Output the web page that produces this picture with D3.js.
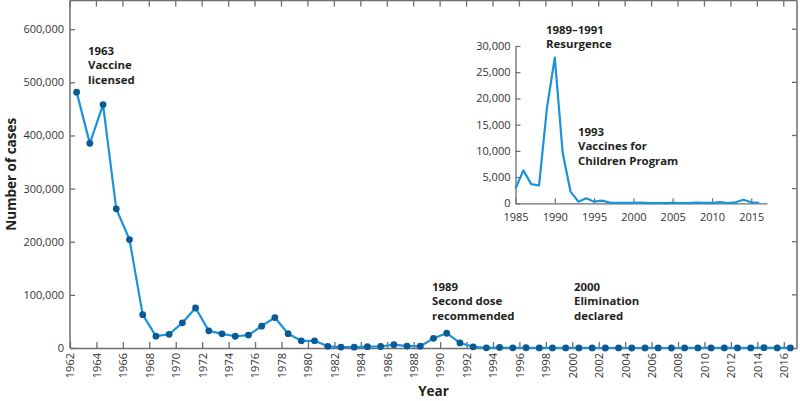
<!DOCTYPE html>
<html><head><meta charset="utf-8">
<script src="https://cdn.jsdelivr.net/npm/d3@7/dist/d3.min.js"></script>
<style>
body{margin:0;background:#fff;}
svg{display:block;}
text{font-family:"Open Sans",sans-serif;}
</style></head>
<body><svg id="chart" width="800" height="401"></svg>
<script>
const years = d3.range(1962, 2017);
const cases = [481530,385156,458083,261904,204136,62705,22231,25826,47351,75290,
32275,26690,22094,24374,41126,57345,26871,13597,13506,3124,
1714,1497,2587,2822,6282,3655,3396,18193,27786,9643,
2237,312,963,309,508,138,100,100,86,116,
44,56,37,66,55,43,140,71,63,220,
55,187,667,188,86];
const yTicks = [0,100000,200000,300000,400000,500000,600000];
const xTicks = d3.range(1962, 2017, 2);
const insetYTicks = [0,5000,10000,15000,20000,25000,30000];
const insetXTicks = [1985,1990,1995,2000,2005,2010,2015];
const annotations = [
  {lines:["1963","Vaccine","licensed"], x:88, y:55},
  {lines:["1989","Second dose","recommended"], x:432, y:291},
  {lines:["2000","Elimination","declared"], x:574, y:291},
  {lines:["1989–1991","Resurgence"], x:546, y:34},
  {lines:["1993","Vaccines for","Children Program"], x:578, y:136}
];

const svg = d3.select("#chart");
const axisColor = "#6d6e71";
const lineColor = "#1a93da";
const dotColor = "#0b5a94";
const fmt = d3.format(",");

// Main scales
const x = d3.scaleLinear().domain([1962, 2017]).range([70, 797]);
const y = d3.scaleLinear().domain([0, 600000]).range([348, 29.2]);
const frameTop = 0.5;

// frame
svg.append("line").attr("x1",x(1962)).attr("x2",x(2017)).attr("y1",frameTop).attr("y2",frameTop).attr("stroke",axisColor).attr("stroke-width",1.5);
svg.append("line").attr("x1",x(2017)).attr("x2",x(2017)).attr("y1",frameTop).attr("y2",y(0)).attr("stroke",axisColor).attr("stroke-width",1.5);
// top ticks
svg.selectAll(".tt").data(xTicks).enter().append("line")
  .attr("x1",d=>x(d)).attr("x2",d=>x(d)).attr("y1",frameTop).attr("y2",frameTop+6)
  .attr("stroke",axisColor).attr("stroke-width",1.3);
// right ticks
svg.selectAll(".rt").data(yTicks.slice(1)).enter().append("line")
  .attr("x1",x(2017)-5).attr("x2",x(2017)).attr("y1",d=>y(d)).attr("y2",d=>y(d))
  .attr("stroke",axisColor).attr("stroke-width",1.3);

// left axis
const yAxis = d3.axisLeft(y).tickValues(yTicks).tickFormat(d=>fmt(d)).tickSizeInner(-5).tickSizeOuter(0).tickPadding(6);
const gy = svg.append("g").attr("transform",`translate(${x(1962)},0)`).call(yAxis);
gy.select(".domain").attr("stroke",axisColor).attr("stroke-width",1.5).attr("d",`M0,${frameTop}V${y(0)}`);
gy.selectAll(".tick line").attr("stroke",axisColor).attr("stroke-width",1.3);
gy.selectAll(".tick text").attr("font-size","11px").attr("fill","#333").attr("font-family","Open Sans");

// bottom axis
const xAxis = d3.axisBottom(x).tickValues(xTicks).tickFormat(d=>String(d)).tickSizeInner(-6).tickSizeOuter(0);
const gx = svg.append("g").attr("transform",`translate(0,${y(0)})`).call(xAxis);
gx.select(".domain").attr("stroke",axisColor).attr("stroke-width",1.5);
gx.selectAll(".tick line").attr("stroke",axisColor).attr("stroke-width",1.3);
gx.selectAll(".tick text").attr("font-size","11px").attr("fill","#333").attr("font-family","Open Sans")
  .attr("transform","rotate(-90)").attr("text-anchor","end").attr("x",-5).attr("y",0).attr("dy","0.35em");

// axis titles
svg.append("text").attr("transform",`translate(16,${(frameTop+y(0))/2}) rotate(-90)`).attr("text-anchor","middle")
  .attr("font-size","13.5px").attr("font-weight","bold").attr("fill","#231f20").text("Number of cases");
svg.append("text").attr("x",(x(1962)+x(2017))/2).attr("y",396).attr("text-anchor","middle")
  .attr("font-size","13.5px").attr("font-weight","bold").attr("fill","#231f20").text("Year");

// main line
const data = years.map((yr,i)=>({yr, v:cases[i]}));
svg.append("path").datum(data)
  .attr("d", d3.line().x(d=>x(d.yr+0.5)).y(d=>y(d.v)))
  .attr("fill","none").attr("stroke",lineColor).attr("stroke-width",2.2).attr("stroke-linejoin","round");
svg.selectAll(".dot").data(data).enter().append("circle")
  .attr("cx",d=>x(d.yr+0.5)).attr("cy",d=>y(d.v)).attr("r",3.4).attr("fill",dotColor);

// Inset
const ix = d3.scaleLinear().domain([1985, 2017]).range([515.5, 767]);
const iy = d3.scaleLinear().domain([0, 30000]).range([203.3, 46]);
const insetData = data.filter(d=>d.yr>=1985);
const iyAxis = d3.axisLeft(iy).tickValues(insetYTicks).tickFormat(d=>fmt(d)).tickSizeInner(-5).tickSizeOuter(0).tickPadding(5);
const giy = svg.append("g").attr("transform",`translate(${ix(1985)},0)`).call(iyAxis);
giy.select(".domain").attr("stroke",axisColor).attr("stroke-width",1.3);
giy.selectAll(".tick line").attr("stroke",axisColor).attr("stroke-width",1.2);
giy.selectAll(".tick text").attr("font-size","11px").attr("fill","#333").attr("font-family","Open Sans");
const ixAxis = d3.axisBottom(ix).tickValues(insetXTicks).tickFormat(d=>String(d)).tickSizeInner(-5).tickSizeOuter(0).tickPadding(10);
const gix = svg.append("g").attr("transform",`translate(0,${iy(0)})`).call(ixAxis);
gix.select(".domain").attr("stroke",axisColor).attr("stroke-width",1.3);
gix.selectAll(".tick line").attr("stroke",axisColor).attr("stroke-width",1.2);
gix.selectAll(".tick text").attr("font-size","11px").attr("fill","#333").attr("font-family","Open Sans");
svg.append("path").datum(insetData)
  .attr("d", d3.line().x(d=>ix(d.yr)).y(d=>iy(d.v)))
  .attr("fill","none").attr("stroke",lineColor).attr("stroke-width",2.2).attr("stroke-linejoin","round");

// annotations
annotations.forEach(a=>{
  const t = svg.append("text").attr("font-size","11.4px").attr("font-weight","bold").attr("fill","#231f20");
  a.lines.forEach((ln,i)=>{
    t.append("tspan").attr("x",a.x).attr("y",a.y+i*14.3).text(ln);
  });
});
</script></body></html>
